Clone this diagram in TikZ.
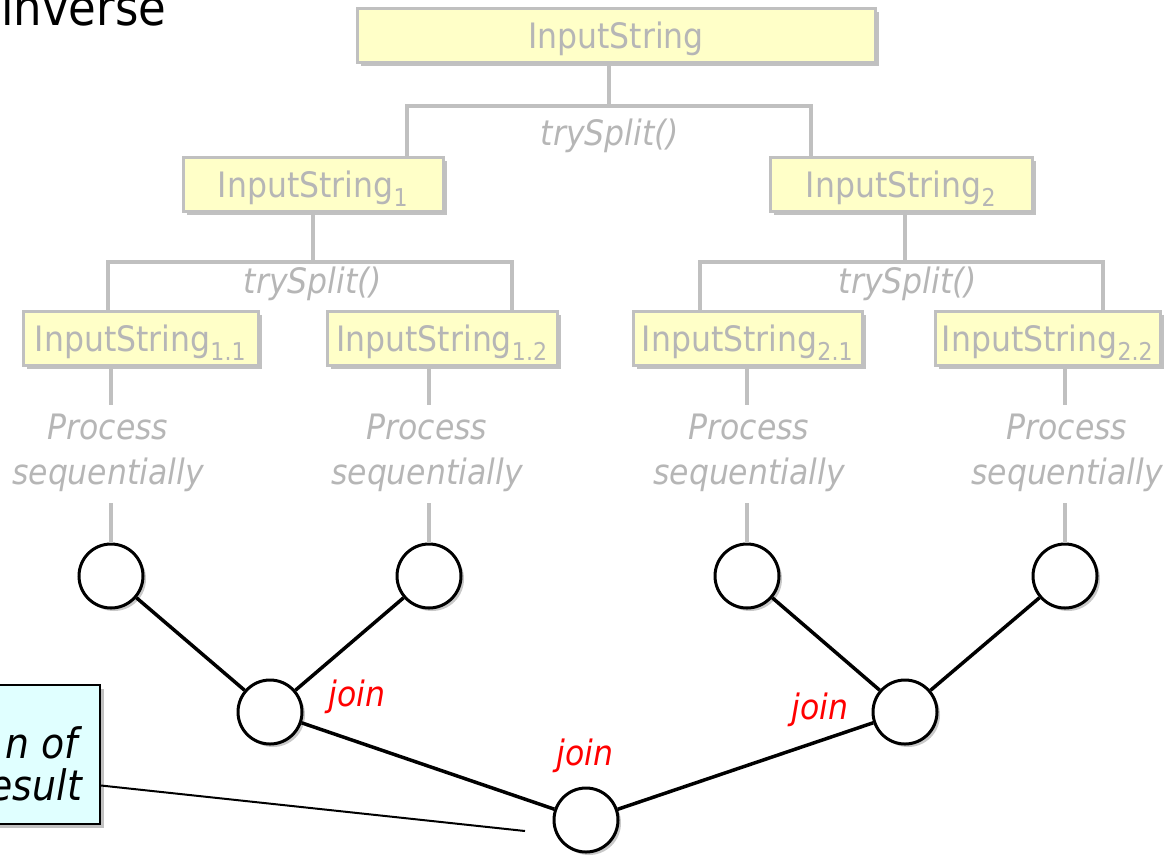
\documentclass[tikz,border=0pt]{standalone}
\usepackage{fontspec}
\setmainfont{DejaVu Sans Condensed}
\usetikzlibrary{shadows}
\definecolor{boxfill}{RGB}{255,255,200}
\definecolor{lgray}{RGB}{192,192,192}
\definecolor{tgray}{RGB}{182,182,182}
\definecolor{callfill}{RGB}{224,255,255}
\definecolor{joinred}{RGB}{255,0,0}
\begin{document}
\begin{tikzpicture}[x=1pt,y=-1pt,
  sbox/.style={draw=lgray, line width=3pt, fill=boxfill, text=tgray,
    minimum height=54pt, inner sep=0pt, text height=26pt, text depth=0pt,
    font=\fontsize{35}{40}\selectfont,
    drop shadow={shadow xshift=4pt, shadow yshift=-4pt, opacity=0.35, fill=black!70}},
  gline/.style={draw=lgray, line width=4pt},
  glabel/.style={text=tgray, inner sep=0pt, align=center,
    font=\fontsize{35}{45}\selectfont\itshape},
  circ/.style={circle, draw=black, line width=3pt, fill=white,
    minimum size=64pt, inner sep=0pt,
    drop shadow={shadow xshift=3pt, shadow yshift=-3pt, opacity=0.3, fill=black!70}},
  bline/.style={draw=black, line width=3.5pt},
  joinlbl/.style={text=joinred, inner sep=0pt, font=\fontsize{35}{40}\selectfont\itshape},
  callbox/.style={draw=black, line width=2pt, fill=callfill,
    drop shadow={shadow xshift=4pt, shadow yshift=-4pt, opacity=0.35, fill=black!70}},
  calltext/.style={inner sep=0pt, font=\fontsize{42}{45}\selectfont\itshape}
]
\useasboundingbox (0,0) rectangle (1174,855);
\clip (0,0) rectangle (1174,855);

% title fragment
\node[anchor=base west, inner sep=0pt, font=\fontsize{50}{54}\selectfont] (title) at (1,25) {inverse};

% bar corner coordinates of the split tree
\coordinate (b0L) at (407,106);
\coordinate (b0R) at (811,106);
\coordinate (b1L) at (108,262);
\coordinate (b1R) at (512,262);
\coordinate (b2L) at (700,262);
\coordinate (b2R) at (1103,262);

% boxes
\node[sbox, minimum width=518pt] (top) at (616,35) {InputString};
\node[sbox, minimum width=260pt] (s1) at (313,184) {InputString\textsubscript{1}};
\node[sbox, minimum width=262pt] (s2) at (901,184) {InputString\textsubscript{2}};
\node[sbox, minimum width=235pt] (s11) at (140.5,338) {InputString\textsubscript{1.1}};
\node[sbox, minimum width=230pt] (s12) at (442,338) {InputString\textsubscript{1.2}};
\node[sbox, minimum width=229pt] (s21) at (747.5,338) {InputString\textsubscript{2.1}};
\node[sbox, minimum width=225pt] (s22) at (1047.5,338) {InputString\textsubscript{2.2}};

\draw[gline] ([xshift=-7pt]top.south) -- ([xshift=-7pt]top.south |- b0L);
\draw[gline] (b0L |- s1.north) -- (b0L) -- (b0R) -- (b0R |- s2.north);
\draw[gline] (s1.south) -- (s1.south |- b1L);
\draw[gline] (b1L |- s11.north) -- (b1L) -- (b1R) -- (b1R |- s12.north);
\draw[gline] ([xshift=4pt]s2.south) -- ([xshift=4pt]s2.south |- b2L);
\draw[gline] (b2L |- s21.north) -- (b2L) -- (b2R) -- (b2R |- s22.north);

\node[glabel] (ts0) at (610,136) {trySplit()};
\node[glabel] (ts1) at (313,284) {trySplit()};
\node[glabel] (ts2) at (908,284) {trySplit()};

% leaf result circles
\node[circ] (c11) at (111,576) {};
\node[circ] (c12) at (429,576) {};
\node[circ] (c21) at (747,576) {};
\node[circ] (c22) at (1065,576) {};

% process labels
\node[glabel] (p11) at (108,453) {Process\\sequentially};
\node[glabel] (p12) at (427,453) {Process\\sequentially};
\node[glabel] (p21) at (749,453) {Process\\sequentially};
\node[glabel] (p22) at (1067,453) {Process\\sequentially};

\foreach \s/\c in {s11/c11, s12/c12, s21/c21, s22/c22}{
  \draw[gline] (\s.south -| \c) -- ++(0,38);
  \draw[gline] (\c.north) -- ++(0,-40);
}

% join circles
\node[circ] (j1) at (270,712) {};
\node[circ] (j2) at (905,712) {};
\node[circ] (j0) at (586,820) {};

\draw[bline] (c11) -- (j1);
\draw[bline] (c12) -- (j1);
\draw[bline] (c21) -- (j2);
\draw[bline] (c22) -- (j2);
\draw[bline] (j1) -- (j0);
\draw[bline] (j2) -- (j0);

\node[joinlbl] (jl1) at (357,697) {join};
\node[joinlbl] (jl0) at (585,756) {join};
\node[joinlbl] (jl2) at (820,710) {join};

% callout
\node[callbox, minimum width=140pt, minimum height=139pt, inner sep=0pt] (call) at (30,754.5) {};
\node[calltext, anchor=base east] (ct1) at (78,758) {n of};
\node[calltext, anchor=base east] (ct2) at (82,800) {esult};
\coordinate (tip) at (525,831);
\draw[draw=black, line width=2pt] ([yshift=-31pt]call.east) -- (tip);
\end{tikzpicture}
\end{document}
